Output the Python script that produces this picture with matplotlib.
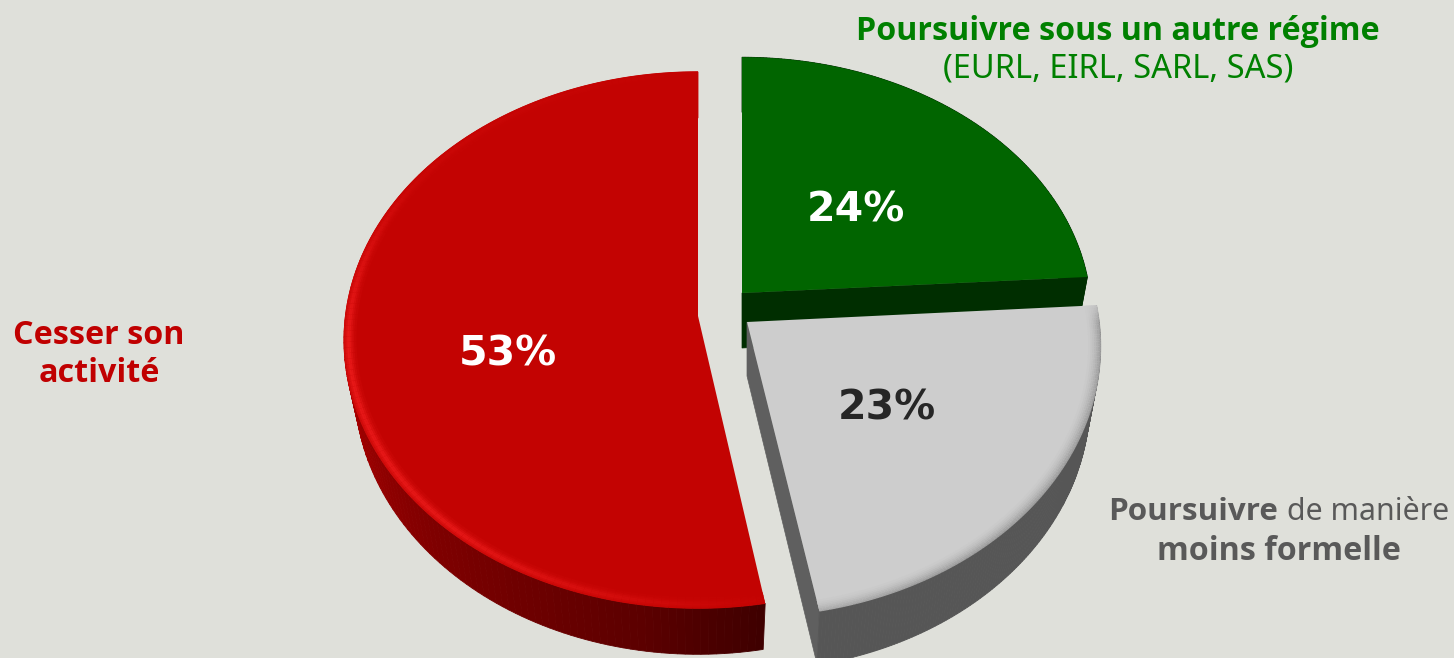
import numpy as np
import matplotlib
matplotlib.use("Agg")
import matplotlib.pyplot as plt
from matplotlib.colors import to_rgb

# values in drawing order, clockwise from 12 o'clock
segments = ["Poursuivre sous un autre régime", "Poursuivre de manière moins formelle", "Cesser son activité"]
shares = [24, 23, 53]
share_labels = ["24%", "23%", "53%"]

BG = "#dfe0da"
FONT = "Noto Sans"
BOLD = "Open Sans"
K = 0.09  # perspective


def project(theta, apex, sx, sy, r=1.0):
    c, s = r * np.cos(theta), -r * np.sin(theta)
    w = 1 - K * s
    return apex[0] + sx * c / w, apex[1] + sy * s / w


def blend(a, b, t):
    a, b = np.array(to_rgb(a)), np.array(to_rgb(b))
    return tuple(a + (b - a) * np.clip(t, 0, 1))


def draw_slice(ax, t0, t1, apex, sx, sy, depth, top, wall, side=None, rim=None):
    thetas = np.linspace(t0, t1, 160)
    low = (apex[0], apex[1] + depth)
    xt, yt = project(thetas, apex, sx, sy)
    xb, yb = project(thetas, low, sx * 0.97, sy)
    # cut face
    if side:
        ax.fill([apex[0], xt[-1], xb[-1], low[0]], [apex[1], yt[-1], yb[-1], low[1]],
                color=side, lw=0.5)
    # outer wall, one strip per step so the shade can change
    for i in range(len(thetas) - 1):
        col = wall(thetas[i])
        ax.fill([xt[i], xt[i + 1], xb[i + 1], xb[i]], [yt[i], yt[i + 1], yb[i + 1], yb[i]],
                color=col, lw=0.6)
    ax.fill(np.r_[apex[0], xt], np.r_[apex[1], yt], color=top, lw=0)
    # soft edge on the top face
    if rim:
        for r, amount in rim["steps"]:
            xr, yr = project(thetas, apex, sx, sy, r)
            for i in range(len(thetas) - 1):
                w = rim["weight"](thetas[i]) * amount
                ax.plot(xr[i:i + 2], yr[i:i + 2], color=blend(top, rim["color"], w),
                        lw=1.6, solid_capstyle="butt")


fig = plt.figure(figsize=(14.54, 6.58), dpi=100, facecolor=BG)
ax = fig.add_axes([0, 0, 1, 1])
ax.set_xlim(0, 1454)
ax.set_ylim(658, 0)
ax.axis("off")

angles = np.pi / 2 - np.radians(np.cumsum([0] + shares) * 3.6)


def red_wall(t):
    deg = np.degrees(t) % 360
    tone = np.interp(deg, [175, 190, 225, 262, 281], [0.78, 0.66, 0.5, 0.36, 0.24])
    return (tone, 0, 0)


def red_weight(t):
    deg = np.degrees(t) % 360
    return np.interp(deg, [90, 150, 185, 230, 265, 280], [0.0, 0.2, 0.9, 0.85, 0.3, 0.05])


def gray_weight(t):
    deg = np.degrees(t) % 360
    if deg > 180:
        return np.interp(deg, [280.8, 300, 360], [0.55, 0.75, 0.75])
    return np.interp(deg, [0, 3.6], [0.75, 0.2])


red_rim = {"color": "#f52020", "weight": red_weight,
           "steps": [(0.998, 0.3), (0.993, 0.55), (0.988, 0.8), (0.983, 0.75), (0.978, 0.5),
                     (0.973, 0.28), (0.968, 0.12)]}
gray_rim = {"color": "#808080", "weight": gray_weight,
            "steps": [(0.999, 0.8), (0.994, 0.65), (0.989, 0.48), (0.984, 0.34), (0.979, 0.22),
                      (0.974, 0.13), (0.969, 0.06)]}

# red, exploded left
draw_slice(ax, angles[2] + 2 * np.pi - np.radians(0.8), angles[3] + 2 * np.pi, (698, 316), 352.6, 266, 46,
           "#c30302", red_wall, rim=red_rim)
# green, exploded up right
draw_slice(ax, angles[0], angles[1], (742, 293), 348, 257, 55,
           "#016500", lambda t: "#002e00", side="#002e00")
# gray, exploded down right
draw_slice(ax, angles[1], angles[2], (747, 322), 352, 268, 54,
           "#cdcdcd", lambda t: "#565656", side="#5f5f5f", rim=gray_rim)

pct = dict(ha="center", va="center", family="DejaVu Sans", fontweight="bold", fontsize=29.5)
ax.text(856, 211, share_labels[0], color="white", **pct)
ax.text(887, 408, share_labels[1], color="#262626", **pct)
ax.text(508, 354, share_labels[2], color="white", **pct)

bold = dict(va="center", family=BOLD, fontweight="bold", fontsize=23.2)
reg = dict(va="center", family=FONT, fontsize=23.5)
ax.text(1118, 31, segments[0], color="#008000", ha="center", **bold)
ax.text(1118, 69, "(EURL, EIRL, SARL, SAS)", color="#008000", ha="center", **reg)
ax.text(99, 336, "Cesser son", color="#c00000", ha="center", **bold)
ax.text(99, 373, "activité", color="#c00000", ha="center", **bold)
ax.text(1108, 512, "Poursuivre", color="#595959", ha="left", va="center", family=BOLD, fontweight="bold", fontsize=22.6)
ax.text(1449, 512, "de manière", color="#595959", ha="right", va="center", family=FONT, fontsize=21.8)
ax.text(1279, 551, "moins formelle", color="#595959", ha="center", **bold)

fig.savefig("out.png", dpi=100, facecolor=BG)
